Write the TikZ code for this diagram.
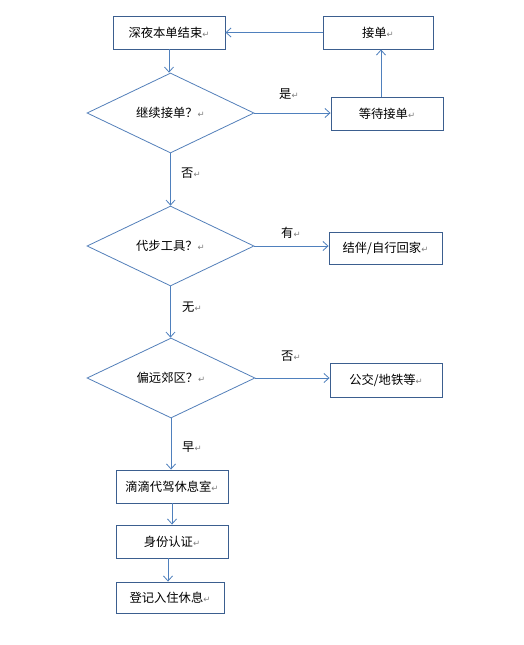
\documentclass[tikz,border=0pt]{standalone}
\usepackage{fontspec}
\setmainfont{Noto Sans CJK SC}
\newfontfamily\symfont{DejaVu Sans}
\usetikzlibrary{shapes.geometric,arrows.meta}
\definecolor{boxc}{HTML}{3B5E8F}
\definecolor{dic}{HTML}{5480BA}
\definecolor{arc}{HTML}{4F80BD}
\newcommand\retmark{{\symfont\color{gray}\fontsize{8.5}{8.5}\selectfont ↵}}
\begin{document}
\begin{tikzpicture}[x=1pt,y=-1pt,
  every node/.style={font=\fontsize{12.3}{14}\selectfont},
  stepbox/.style={draw=boxc,line width=0.9pt,inner sep=0pt,minimum width=112pt,minimum height=33pt},
  choice/.style={diamond,draw=dic,line width=0.8pt,inner sep=0pt,minimum width=167pt,minimum height=78pt},
  conn/.style={draw=arc,line width=0.9pt,-{Straight Barb[length=5pt,width=9pt,line width=0.8pt]}},
  lab/.style={anchor=west,inner sep=0pt}]
\useasboundingbox (0,0) rectangle (523,645);
\fill[white] (0,0) rectangle (523,645);
\node[stepbox] (n1) at (169,32.5) {深夜本单结束\retmark};
\node[stepbox,minimum width=110pt] (n2) at (378,32.5) {接单\retmark};
\node[choice] (d1) at (170.5,113) {继续接单？\retmark};
\node[stepbox] (n3) at (387,113.5) {等待接单\retmark};
\node[choice] (d2) at (170.5,246) {代步工具？\retmark};
\node[stepbox,minimum width=113pt,minimum height=32pt] (n4) at (385.5,248) {结伴/自行回家\retmark};
\node[choice,minimum width=168pt] (d3) at (171,378) {偏远郊区？\retmark};
\node[stepbox,minimum height=34pt] (n5) at (386,380) {公交/地铁等\retmark};
\node[stepbox] (n6) at (172,486.5) {滴滴代驾休息室\retmark};
\node[stepbox] (n7) at (172,541.5) {身份认证\retmark};
\node[stepbox,minimum width=108pt,minimum height=31pt] (n8) at (170,597.5) {登记入住休息\retmark};
% labels
\node[lab] (l1) at (279,94) {是\retmark};
\node[lab] (l2) at (181,173) {否\retmark};
\node[lab] (l3) at (281,233) {有\retmark};
\node[lab] (l4) at (182,307) {无\retmark};
\node[lab] (l5) at (281,356) {否\retmark};
\node[lab] (l6) at (182,447) {早\retmark};
% connectors
\draw[conn] (n2.west) -- (n1.east);
\draw[conn] ([xshift=-6pt]n3.north) -- ([xshift=-6pt]n3.north |- n2.south);
\draw[conn] (n1.south) -- (n1.south |- d1.north);
\draw[conn] (d1.east) -- (d1.east -| n3.west);
\draw[conn] (d1.south) -- (d2.north);
\draw[conn] (d2.east) -- (d2.east -| n4.west);
\draw[conn] (d2.south) -- (d2.south |- d3.north);
\draw[conn] (d3.east) -- (d3.east -| n5.west);
\draw[conn] (d3.south) -- (d3.south |- n6.north);
\draw[conn] (n6.south) -- (n7.north);
\draw[conn] ([xshift=-4pt]n7.south) -- ([xshift=-4pt]n7.south |- n8.north);
\end{tikzpicture}
\end{document}
